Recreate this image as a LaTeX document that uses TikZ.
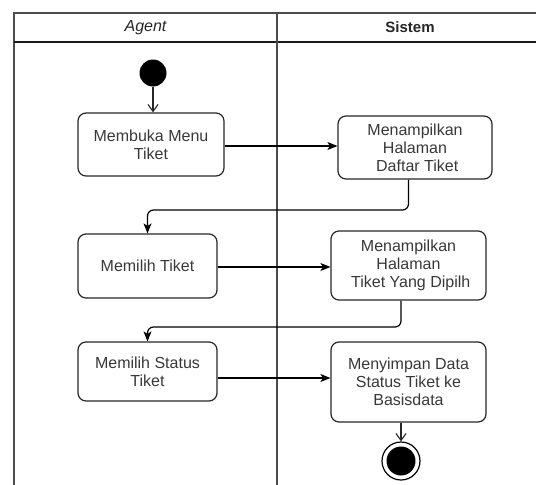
\documentclass[tikz,border=0pt]{standalone}
\usepackage{fontspec}
\setmainfont{Liberation Sans}
\usetikzlibrary{arrows.meta}
\begin{document}
\begin{tikzpicture}[x=1pt,y=-1pt,
  lane/.style={draw=black!70, line width=1.5pt},
  action/.style={draw=black!85, line width=1.2pt, rounded corners=8pt,
    align=center, inner sep=0pt, text=black!78,
    font=\fontsize{16}{18}\selectfont},
  flow/.style={draw=black, line width=1.2pt, rounded corners=6pt,
    -{Stealth[length=10pt,width=8pt,inset=2.5pt]}},
  openflow/.style={draw=black!85, line width=1.1pt,
    -{Straight Barb[length=7pt,width=10pt]}},
  header/.style={font=\fontsize{16}{18}\selectfont, text=black!85}]
\useasboundingbox (0,0) rectangle (536,485);

% swimlane frame
\draw[lane] (536,13) -- (14,13) -- (14,485);
\draw[lane, draw=black!90, line width=2pt] (14,42) -- (536,42);
\draw[lane, line width=2.4pt] (277,13) -- (277,485);
\node[header, font=\fontsize{16}{18}\selectfont\itshape] (hagent) at (145.5,27.5) {Agent};
\node[header, font=\fontsize{15}{18}\selectfont\bfseries] (hsistem) at (410,27.5) {Sistem};

% start and end states
\node[circle, fill=black, inner sep=0pt, minimum size=27pt] (start) at (153,73) {};
\node[circle, draw=black, line width=1.2pt, fill=white, inner sep=0pt, minimum size=38pt] (stop) at (401,461) {};
\node[circle, fill=black, inner sep=0pt, minimum size=29pt] (stopdot) at (stop) {};

% actions
\node[action, minimum width=146pt, minimum height=63pt] (b1) at (151,144.5) {Membuka Menu\\Tiket};
\node[action, minimum width=154pt, minimum height=63pt] (b2) at (415,147.5) {Menampilkan\\Halaman\\\ Daftar Tiket};
\node[action, minimum width=139pt, minimum height=64pt] (b3) at (147.5,266) {Memilih Tiket};
\node[action, minimum width=155pt, minimum height=69pt] (b4) at (408.5,265.5) {Menampilkan\\Halaman\\\ Tiket Yang Dipilh};
\node[action, minimum width=139pt, minimum height=59pt] (b5) at (147.5,371.5) {Memilih Status\\Tiket};
\node[action, minimum width=155pt, minimum height=80pt] (b6) at (408.5,382) {Menyimpan Data\\Status Tiket ke\\Basisdata};

% bend points of the return connectors
\coordinate (k1) at (408.5,210);
\coordinate (k2) at (401,327);
\coordinate (e1) at (b1.east |- 0,146);
\coordinate (e3) at (b3.east |- 0,267);
\coordinate (e5) at (b5.east |- 0,378);

% connectors
\draw[openflow] (start) -- (start |- b1.north);
\draw[flow] (e1) -- (b2.west |- e1);
\draw[flow] (b2.south -| k1) -- (k1) -| (b3.north);
\draw[flow] (e3) -- (b4.west |- e3);
\draw[flow] (b4.south -| k2) -- (k2) -| (b5.north);
\draw[flow] (e5) -- (b6.west |- e5);
\draw[openflow] (b6.south -| stop) -- (stop.north);
\end{tikzpicture}
\end{document}
